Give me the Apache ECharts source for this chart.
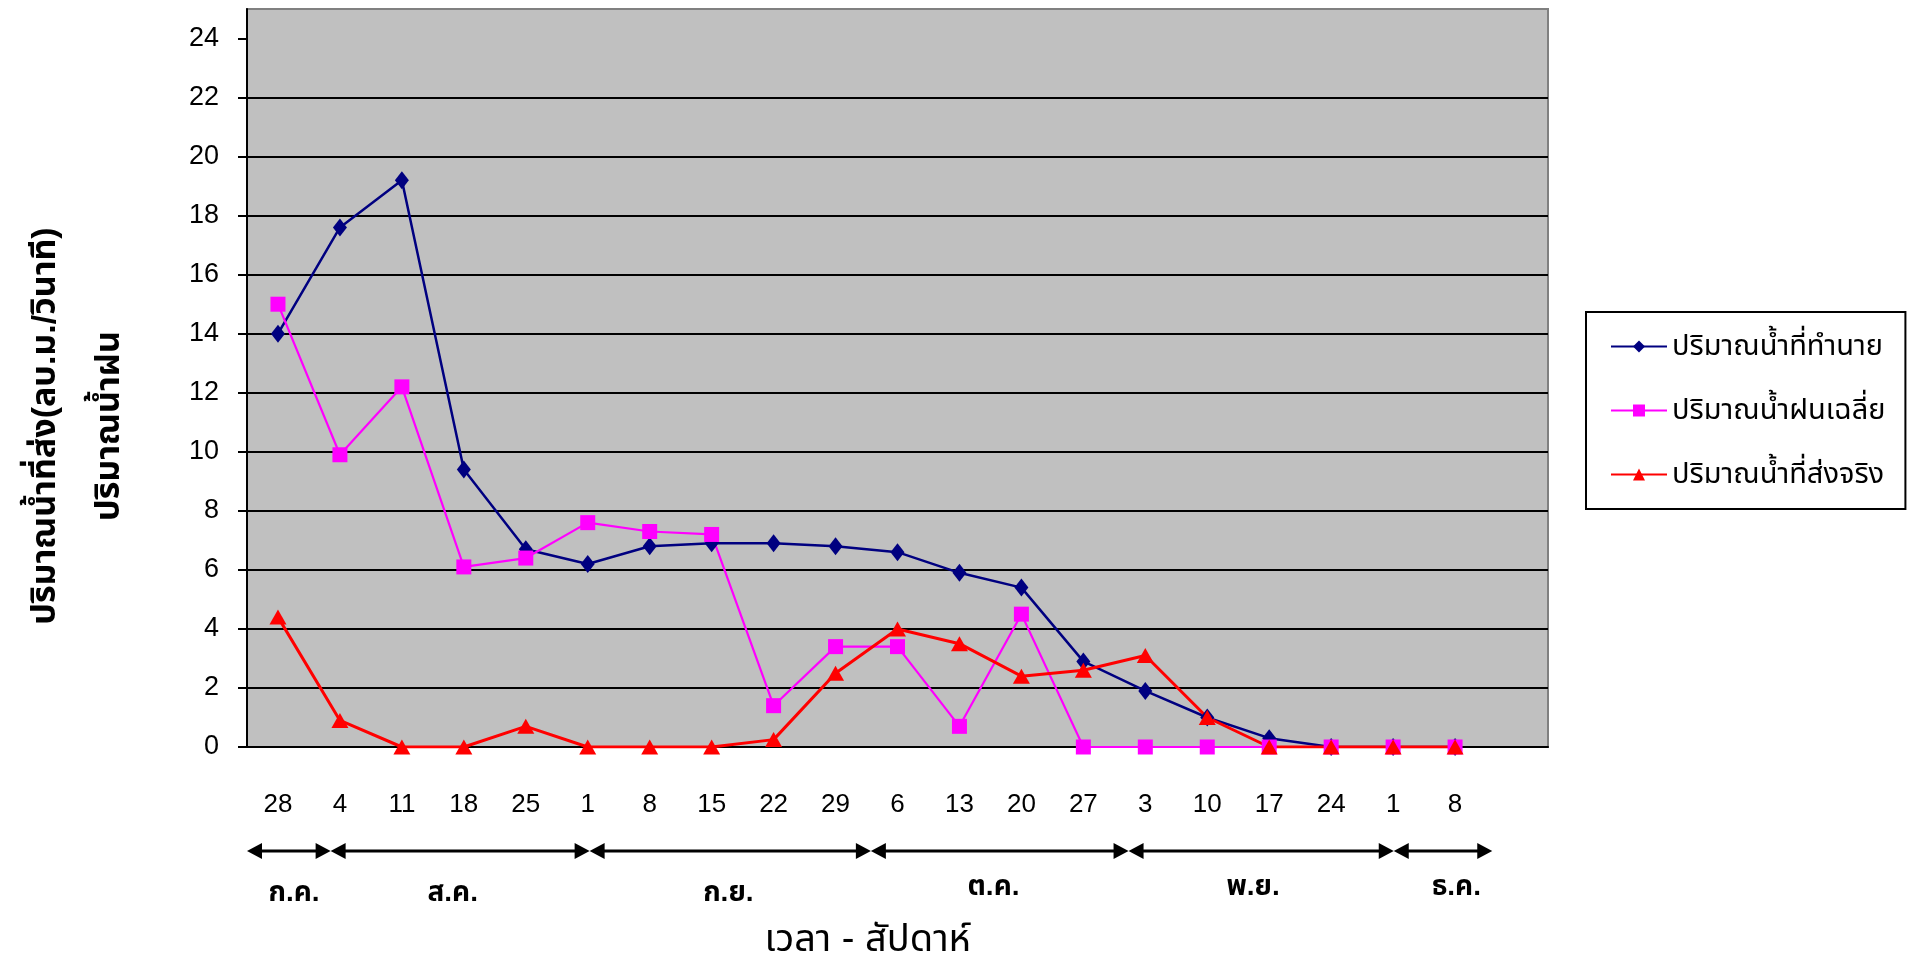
<!DOCTYPE html>
<html>
<head>
<meta charset="utf-8">
<title>ปริมาณน้ำ</title>
<script src="https://cdn.jsdelivr.net/npm/echarts@6/dist/echarts.min.js"></script>
<style>
html, body { margin: 0; padding: 0; background: #fff; }
#chart { width: 1910px; height: 963px; }
</style>
</head>
<body>
<div id="chart"></div>
<script>
// week start days (last slot is an empty category)
const weekLabels = ['28', '4', '11', '18', '25', '1', '8', '15', '22', '29', '6', '13', '20', '27', '3', '10', '17', '24', '1', '8', '']
const predicted = [14.0, 17.6, 19.2, 9.4, 6.7, 6.2, 6.8, 6.9, 6.9, 6.8, 6.6, 5.9, 5.4, 2.9, 1.9, 1.0, 0.3, 0, 0, 0, null]
const rainfall = [15.0, 9.9, 12.2, 6.1, 6.4, 7.6, 7.3, 7.2, 1.4, 3.4, 3.4, 0.7, 4.5, 0, 0, 0, 0, 0, 0, 0, null]
const delivered = [4.4, 0.9, 0, 0, 0.7, 0, 0, 0, 0.25, 2.5, 4.0, 3.5, 2.4, 2.6, 3.1, 1.0, 0, 0, 0, 0, null]
const yTicks = [0, 2, 4, 6, 8, 10, 12, 14, 16, 18, 20, 22, 24]
const seriesNames = ['ปริมาณน้ำที่ทำนาย', 'ปริมาณน้ำฝนเฉลี่ย', 'ปริมาณน้ำที่ส่งจริง']

// months, spans given in week-index units
const monthNames = ['ก.ค.', 'ส.ค.', 'ก.ย.', 'ต.ค.', 'พ.ย.', 'ธ.ค.']
const monthFrom = [-0.5, 0.85, 5.03, 9.57, 13.73, 18.01]
const monthTo = [0.85, 5.03, 9.57, 13.73, 18.01, 19.6]
const monthLabelAt = [0.26, 2.82, 7.27, 11.55, 15.74, 19.02]

const FONT = "'Liberation Sans', Arial, 'Noto Sans Thai', Tahoma, sans-serif"

const chart = echarts.init(document.getElementById('chart'))

const option = {
  animation: false,
  backgroundColor: '#fff',
  textStyle: { fontFamily: FONT, color: '#000' },
  grid: {
    left: 247,
    right: 362,
    top: 9,
    bottom: 216,
    show: true,
    backgroundColor: '#c0c0c0',
    borderColor: '#808080',
    borderWidth: 2
  },
  legend: {
    data: seriesNames,
    orient: 'vertical',
    left: 1586,
    top: 312,
    backgroundColor: '#fff',
    borderColor: '#000',
    borderWidth: 2,
    borderRadius: 0,
    padding: [20, 20, 20, 24],
    itemGap: 35,
    itemWidth: 56,
    itemHeight: 15,
    textStyle: { fontFamily: FONT, fontSize: 29, lineHeight: 29, color: '#000' }
  },
  xAxis: {
    type: 'category',
    data: weekLabels,
    axisLine: { lineStyle: { color: '#000', width: 2 } },
    axisTick: { length: 10, lineStyle: { color: '#000', width: 2 } },
    axisLabel: { interval: 0, margin: 45, fontSize: 26, color: '#000', fontFamily: FONT },
    splitLine: { show: false }
  },
  yAxis: {
    type: 'value',
    min: 0,
    max: 25,
    interval: 2,
    axisLine: { show: true, lineStyle: { color: '#000', width: 2 } },
    axisTick: { show: true, length: 9, customValues: yTicks, lineStyle: { color: '#000', width: 2 } },
    axisLabel: { customValues: yTicks, margin: 28, fontSize: 27, color: '#000', fontFamily: FONT },
    splitLine: { show: true, showMaxLine: false, lineStyle: { color: '#000', width: 2 } }
  },
  series: [
    {
      name: seriesNames[0],
      type: 'line',
      data: predicted,
      symbol: 'diamond',
      symbolSize: [14, 18],
      lineStyle: { color: '#000080', width: 2.5 },
      itemStyle: { color: '#000080' }
    },
    {
      name: seriesNames[1],
      type: 'line',
      data: rainfall,
      symbol: 'rect',
      symbolSize: 15,
      lineStyle: { color: '#ff00ff', width: 2.2 },
      itemStyle: { color: '#ff00ff' }
    },
    {
      name: seriesNames[2],
      type: 'line',
      data: delivered,
      symbol: 'triangle',
      symbolSize: [17, 15],
      lineStyle: { color: '#ff0000', width: 3 },
      itemStyle: { color: '#ff0000' }
    }
  ]
}

chart.setOption(option)

// month arrows, month names and axis titles
const drawAnnotations = () => {
  const x0 = chart.convertToPixel({ xAxisIndex: 0 }, 0)
  const x1 = chart.convertToPixel({ xAxisIndex: 0 }, 1)
  const step = x1 - x0
  const xAt = u => x0 + u * step
  const axisY = chart.convertToPixel({ yAxisIndex: 0 }, 0)
  const arrowY = axisY + 104
  const elements = []

  monthNames.forEach((m, i) => {
    const a = xAt(monthFrom[i])
    const b = xAt(monthTo[i])
    elements.push({
      type: 'line',
      id: 'ln' + i,
      shape: { x1: a + 6, y1: arrowY, x2: b - 6, y2: arrowY },
      style: { stroke: '#000', lineWidth: 3 }
    })
    elements.push({
      type: 'polygon',
      id: 'ha' + i,
      shape: { points: [[a, arrowY], [a + 15, arrowY - 8], [a + 15, arrowY + 8]] },
      style: { fill: '#000' }
    })
    elements.push({
      type: 'polygon',
      id: 'hb' + i,
      shape: { points: [[b, arrowY], [b - 15, arrowY - 8], [b - 15, arrowY + 8]] },
      style: { fill: '#000' }
    })
    elements.push({
      type: 'text',
      id: 'mn' + i,
      x: xAt(monthLabelAt[i]),
      y: axisY + (i < 3 ? 146 : 140),
      style: {
        text: m,
        fontFamily: FONT,
        fontSize: 28,
        fontWeight: 'bold',
        fill: '#000',
        align: 'center',
        verticalAlign: 'middle'
      }
    })
  })

  elements.push({
    type: 'text',
    id: 'xname',
    x: xAt(9.52),
    y: axisY + 194,
    style: {
      text: 'เวลา - สัปดาห์',
      fontFamily: FONT,
      fontSize: 38,
      fill: '#000',
      align: 'center',
      verticalAlign: 'middle'
    }
  })

  elements.push({
    type: 'text',
    id: 'yname',
    x: 78,
    y: 426,
    rotation: Math.PI / 2,
    style: {
      text: 'ปริมาณน้ำที่ส่ง(ลบ.ม./วินาที)\nปริมาณน้ำฝน',
      fontFamily: FONT,
      fontSize: 34,
      fontWeight: 'bold',
      lineHeight: 64,
      fill: '#000',
      align: 'center',
      verticalAlign: 'middle'
    }
  })

  chart.setOption({ graphic: { elements } })
}

drawAnnotations()

window.addEventListener('resize', () => {
  chart.resize()
  drawAnnotations()
})
</script>
</body>
</html>
